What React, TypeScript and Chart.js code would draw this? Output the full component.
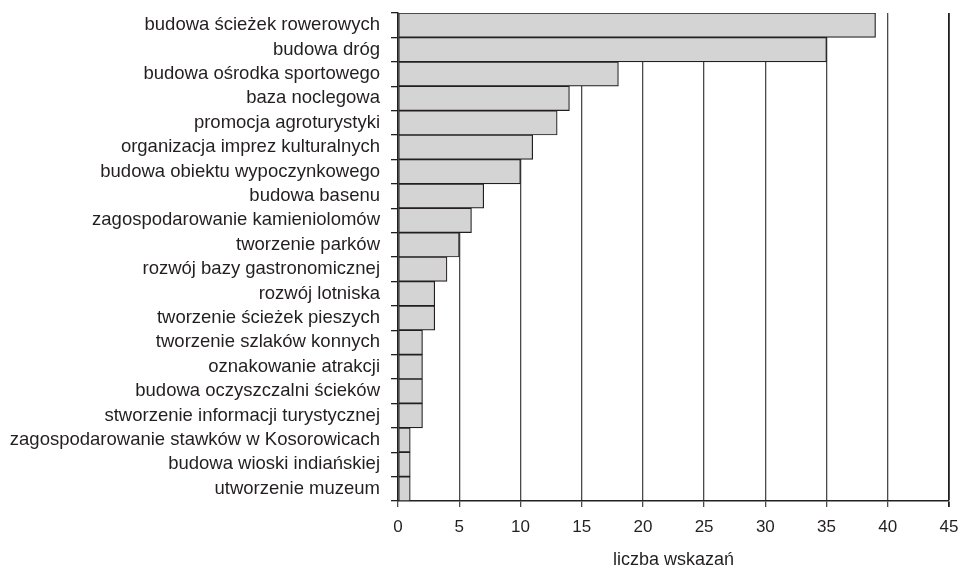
import React, { useEffect, useRef } from "react";
import { Chart, registerables } from "chart.js";

Chart.register(...registerables);

// Development priorities named by respondents, ordered by number of mentions
const categories: string[] = [
  "budowa ścieżek rowerowych",
  "budowa dróg",
  "budowa ośrodka sportowego",
  "baza noclegowa",
  "promocja agroturystyki",
  "organizacja imprez kulturalnych",
  "budowa obiektu wypoczynkowego",
  "budowa basenu",
  "zagospodarowanie kamieniolomów",
  "tworzenie parków",
  "rozwój bazy gastronomicznej",
  "rozwój lotniska",
  "tworzenie ścieżek pieszych",
  "tworzenie szlaków konnych",
  "oznakowanie atrakcji",
  "budowa oczyszczalni ścieków",
  "stworzenie informacji turystycznej",
  "zagospodarowanie stawków w Kosorowicach",
  "budowa wioski indiańskiej",
  "utworzenie muzeum",
];

const mentions: number[] = [39, 35, 18, 14, 13, 11, 10, 7, 6, 5, 4, 3, 3, 2, 2, 2, 2, 1, 1, 1];

const xMin = 0;
const xMax = 45;
const xStep = 5;
const xTitle = "liczba wskazań";

const INK = "#231f20";
const FONT = "'Liberation Sans', Arial, Helvetica, sans-serif";

export default function App() {
  const canvasRef = useRef<HTMLCanvasElement | null>(null);

  useEffect(() => {
    document.body.style.margin = "0";
    const canvas = canvasRef.current;
    if (!canvas) return;

    const chart = new Chart(canvas, {
      type: "bar",
      data: {
        labels: categories,
        datasets: [
          {
            data: mentions,
            backgroundColor: "#d4d4d4",
            borderColor: INK,
            borderWidth: 1.2,
            borderSkipped: false,
            barPercentage: 1,
            categoryPercentage: 1,
          },
        ],
      },
      options: {
        indexAxis: "y",
        responsive: false,
        animation: false,
        layout: { padding: { top: 13, right: 11, left: 0, bottom: 0 } },
        plugins: {
          legend: { display: false },
          tooltip: { enabled: false },
        },
        scales: {
          x: {
            min: xMin,
            max: xMax,
            ticks: {
              stepSize: xStep,
              color: INK,
              padding: 10,
              font: { family: FONT, size: 17 },
              maxRotation: 0,
            },
            grid: {
              color: (ctx: any) => (ctx.tick && ctx.tick.value === xMax ? "#1e1e1e" : "#4a4a4a"),
              lineWidth: (ctx: any) => (ctx.tick && ctx.tick.value === xMax ? 1.8 : 1.3),
              tickLength: 6,
              drawTicks: true,
            },
            border: { display: true, color: INK, width: 1.5 },
            title: {
              display: true,
              text: xTitle,
              color: INK,
              font: { family: FONT, size: 18, lineHeight: 0.95 },
              padding: { top: 0, bottom: 0 },
            },
            afterFit: (scale: any) => {
              scale.height = 68;
              scale.paddingLeft = 0;
              scale.paddingRight = 0;
            },
          },
          y: {
            ticks: {
              color: INK,
              padding: 11,
              font: { family: FONT, size: 18.5 },
              autoSkip: false,
            },
            grid: {
              offset: true,
              drawOnChartArea: false,
              drawTicks: true,
              tickLength: 7,
              color: INK,
              lineWidth: 1.3,
            },
            border: { display: true, color: INK, width: 1.5 },
            afterFit: (scale: any) => {
              scale.width = 398;
              scale.paddingTop = 0;
              scale.paddingBottom = 0;
            },
          },
        },
      },
    });

    return () => chart.destroy();
  }, []);

  return (
    <canvas
      ref={canvasRef}
      width={960}
      height={569}
      style={{ display: "block", width: 960, height: 569 }}
    />
  );
}
